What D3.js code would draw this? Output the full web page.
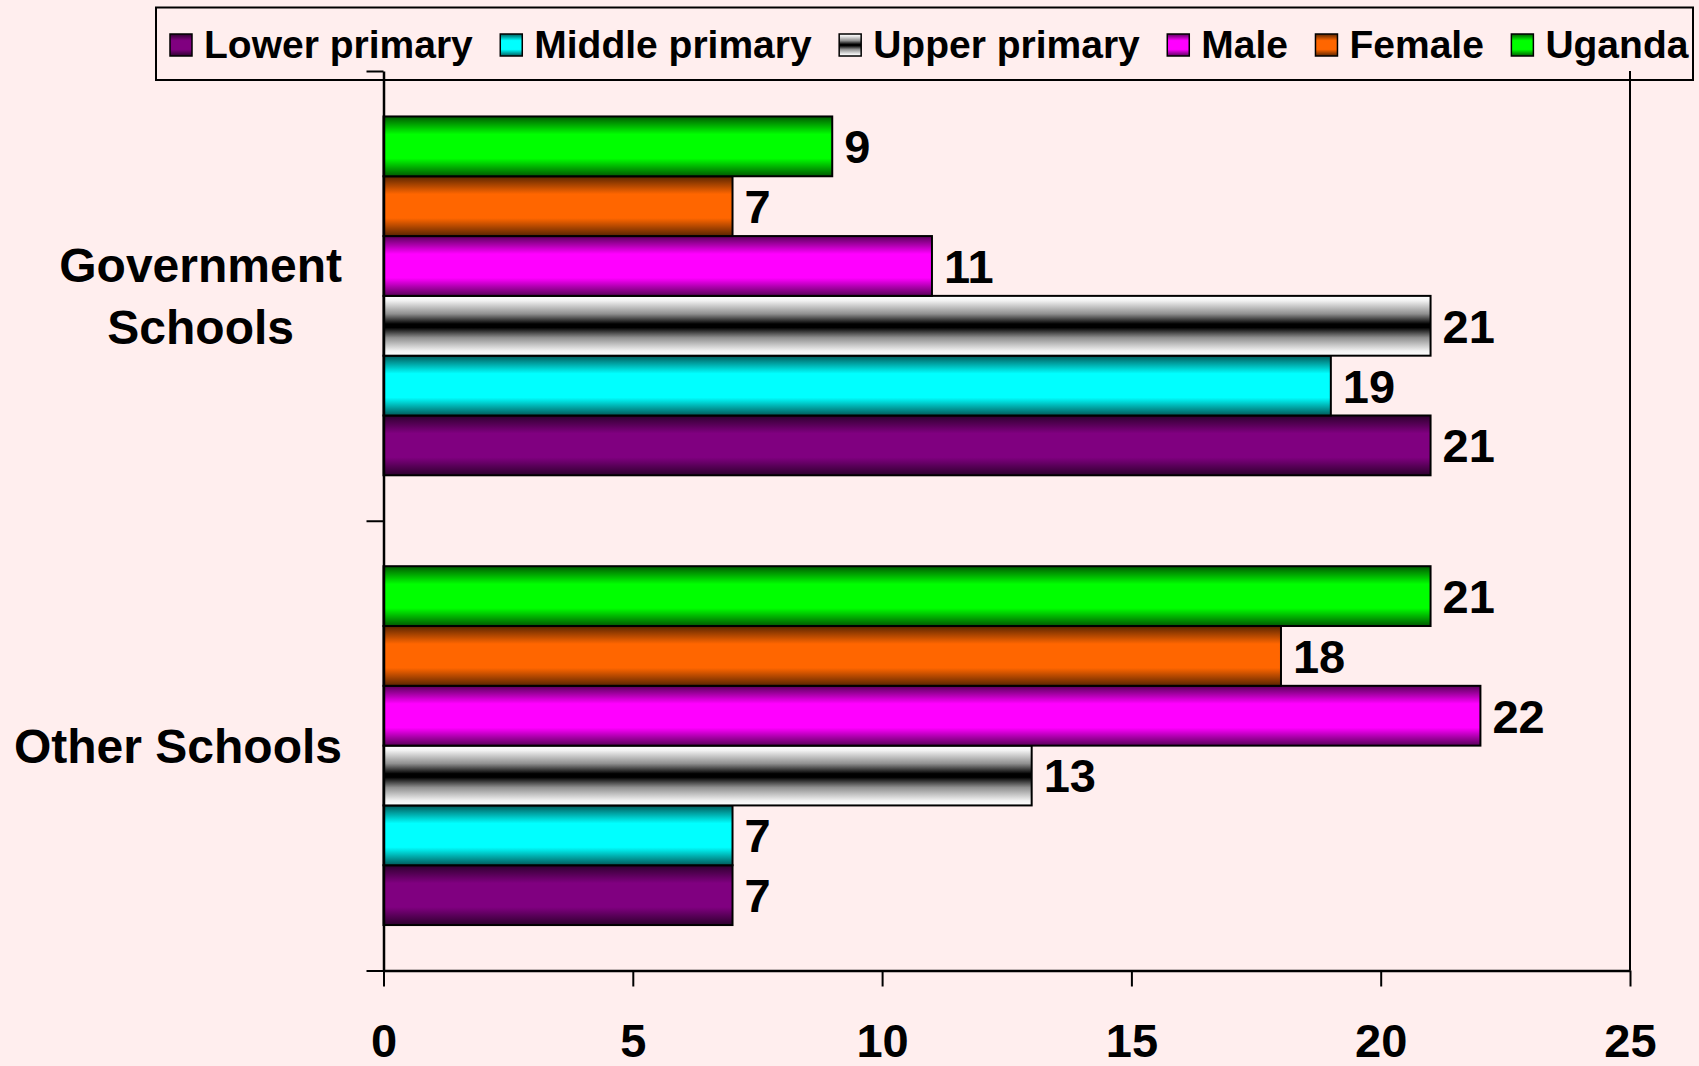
<!DOCTYPE html>
<html>
<head>
<meta charset="utf-8">
<script src="https://cdn.jsdelivr.net/npm/d3@7"></script>
<style>
  html, body { margin: 0; padding: 0; background: #FFEEEE; }
  svg { display: block; }
  text { font-family: "Liberation Sans", Arial, sans-serif; font-weight: bold; fill: #000; }
</style>
</head>
<body>
<svg id="chart" width="1699" height="1066"></svg>
<script>
// ---- data ----
const categories = ["Government Schools", "Other Schools"];
const seriesNames = ["Lower primary", "Middle primary", "Upper primary", "Male", "Female", "Uganda"];
const lowerPrimary = [21, 7];
const middlePrimary = [19, 7];
const upperPrimary = [21, 13];
const male = [11, 22];
const female = [7, 18];
const uganda = [9, 21];
const xTicks = [0, 5, 10, 15, 20, 25];
const seriesValues = [lowerPrimary, middlePrimary, upperPrimary, male, female, uganda];

// ---- styles ----
const seriesColors = ["#800080", "#00FFFF", "gray", "#FF00FF", "#FF6600", "#00FF00"];

const W = 1699, H = 1066;
const plot = { left: 383.5, right: 1630, top: 71, bottom: 970.5 };
const svg = d3.select("#chart");

svg.append("rect").attr("width", W).attr("height", H).attr("fill", "#FFEEEE");

// gradients
const defs = svg.append("defs");
function shade(c, k) {
  const r = d3.rgb(c);
  return d3.rgb(r.r * k, r.g * k, r.b * k).toString();
}
seriesNames.forEach((s, i) => {
  const g = defs.append("linearGradient").attr("id", "grad" + i)
    .attr("x1", 0).attr("y1", 0).attr("x2", 0).attr("y2", 1);
  let stops;
  if (s === "Upper primary") {
    stops = [[0, "#ffffff"], [0.08, "#f2f2f2"], [0.3, "#909090"], [0.47, "#000000"], [0.53, "#000000"], [0.7, "#909090"], [0.92, "#f2f2f2"], [1, "#ffffff"]];
  } else {
    const c = seriesColors[i];
    stops = [[0, shade(c, 0.35)], [0.3, c], [0.7, c], [1, shade(c, 0.35)]];
  }
  stops.forEach(([o, col]) => g.append("stop").attr("offset", o).attr("stop-color", col));
});

// scales
const x = d3.scaleLinear().domain([0, 25]).range([plot.left, plot.right]);
const y0 = d3.scaleBand().domain(categories).range([plot.top, plot.bottom]).padding(0);
const seriesTopDown = seriesNames.slice().reverse();
const y1 = d3.scaleBand().domain(seriesTopDown).range([0, y0.bandwidth()]).paddingInner(0).paddingOuter(0.76);

// legend (drawn first; axes overlap it)
const legend = svg.append("g");
legend.append("rect").attr("x", 156).attr("y", 7.5).attr("width", 1537).attr("height", 72.5)
  .attr("fill", "#FFEEEE").attr("stroke", "#000").attr("stroke-width", 2);
let lx = 170;
seriesNames.forEach((s, i) => {
  const gi = legend.append("g");
  gi.append("rect").attr("x", lx).attr("y", 34).attr("width", 22).attr("height", 22)
    .attr("fill", `url(#grad${i})`).attr("stroke", "#000").attr("stroke-width", 1.5);
  const t = gi.append("text").attr("x", lx + 34).attr("y", 58).attr("font-size", 39).text(s);
  const w = t.node().getComputedTextLength();
  lx = lx + 34 + w + 27.5;
});

// bars
const groups = svg.append("g").selectAll("g").data(categories).join("g")
  .attr("transform", d => `translate(0,${y0(d)})`);
groups.each(function(cat, ci) {
  const g = d3.select(this);
  const rows = seriesNames.map((s, si) => ({ s, si, v: seriesValues[si][ci] }));
  g.selectAll("rect").data(rows).join("rect")
    .attr("x", x(0)).attr("y", d => y1(d.s))
    .attr("width", d => x(d.v) - x(0)).attr("height", y1.bandwidth())
    .attr("fill", d => `url(#grad${d.si})`).attr("stroke", "#000").attr("stroke-width", 2);
  g.selectAll("text").data(rows).join("text")
    .attr("x", d => x(d.v) + 12).attr("y", d => y1(d.s) + y1.bandwidth() / 2)
    .attr("dy", "0.36em").attr("font-size", 47).text(d => d.v);
});

// right border line
svg.append("line").attr("x1", x(25)).attr("x2", x(25)).attr("y1", plot.top).attr("y2", plot.bottom)
  .attr("stroke", "#000").attr("stroke-width", 2);

// x axis
const xAxis = svg.append("g").attr("transform", `translate(0,${plot.bottom})`)
  .call(d3.axisBottom(x).tickValues(xTicks).tickSize(16).tickSizeOuter(0).tickPadding(37).tickFormat(d3.format("d")));
xAxis.select(".domain").attr("stroke", "#000").attr("stroke-width", 2.5);
xAxis.selectAll(".tick line").attr("stroke", "#000").attr("stroke-width", 2);
xAxis.selectAll(".tick text").attr("font-size", 47).attr("font-family", "Liberation Sans, Arial, sans-serif").attr("font-weight", "bold").attr("fill", "#000");

// y axis (ticks at category boundaries)
const yb = d3.scaleLinear().domain([0, categories.length]).range([plot.top, plot.bottom]);
const yAxis = svg.append("g").attr("transform", `translate(${plot.left},0)`)
  .call(d3.axisLeft(yb).tickValues(d3.range(categories.length + 1)).tickSize(17).tickSizeOuter(0).tickFormat(""));
yAxis.select(".domain").attr("stroke", "#000").attr("stroke-width", 2.5);
yAxis.selectAll(".tick line").attr("stroke", "#000").attr("stroke-width", 2);

// category labels
const catLines = { "Government Schools": ["Government", "Schools"], "Other Schools": ["Other Schools"] };
categories.forEach(c => {
  const lines = catLines[c];
  const cy = y0(c) + y0.bandwidth() / 2;
  const lh = 62;
  const t = svg.append("text").attr("font-size", 48).attr("text-anchor", "middle");
  lines.forEach((ln, i) => {
    t.append("tspan").attr("y", cy + (i - (lines.length - 1) / 2) * lh).attr("dy", "0.36em").text(ln);
  });
  const widths = [];
  t.selectAll("tspan").each(function() { widths.push(this.getComputedTextLength()); });
  const maxW = d3.max(widths);
  t.selectAll("tspan").attr("x", 342 - maxW / 2);
});
</script>
</body>
</html>
